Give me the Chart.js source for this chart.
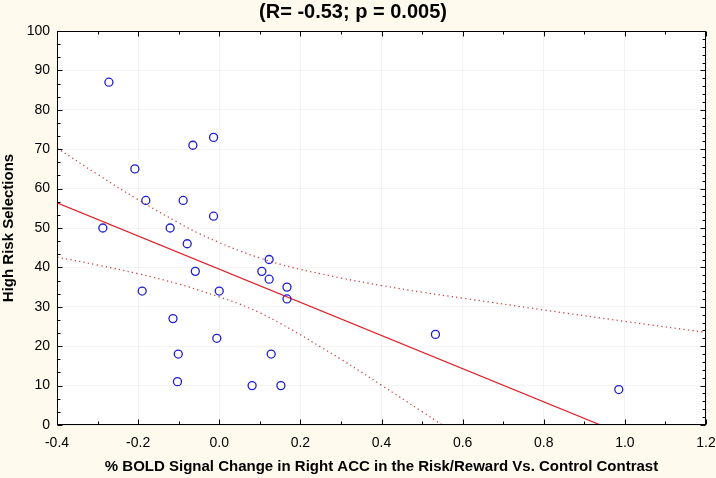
<!DOCTYPE html>
<html><head><meta charset="utf-8">
<script src="https://cdn.jsdelivr.net/npm/chart.js@4.4.0/dist/chart.umd.min.js"></script>
<style>html,body{margin:0;padding:0;background:#FEFAEE;overflow:hidden}#wrap{width:716px;height:478px}</style>
</head><body><div id="wrap"><canvas id="c" width="716" height="478"></canvas></div>
<script>
const titleText = '(R= -0.53; p = 0.005)';
const xAxisTitle = '% BOLD Signal Change in Right ACC in the Risk/Reward Vs. Control Contrast';
const yAxisTitle = 'High Risk Selections';

const xVals = [-0.272, -0.014, -0.065, -0.208, -0.181, -0.089, -0.014, -0.287, -0.121, -0.079, 0.123, -0.059, 0.105, 0.123, 0.167, -0.190, 0.000, 0.167, -0.114, -0.006, -0.101, 0.128, -0.103, 0.081, 0.152, 0.533, 0.985];
const yVals = [87, 73, 71, 65, 57, 57, 53, 50, 50, 46, 42, 39, 39, 37, 35, 34, 34, 32, 27, 22, 18, 18, 11, 10, 10, 23, 9];

const fitX = [-0.4, 0.94];
const fitY = [56.4, 0];

const upperX = [-0.4, -0.3, -0.2, -0.1, -0.05, 0.0, 0.05, 0.1, 0.15, 0.2, 0.25, 0.3, 0.4, 0.5, 0.6, 0.8, 1.0, 1.2];
const upperY = [70.3, 63.6, 57.2, 51.3, 48.6, 46.3, 44.2, 42.4, 40.8, 39.5, 38.4, 37.3, 35.4, 33.7, 32.2, 29.2, 26.3, 23.5];
const lowerX = [-0.4, -0.3, -0.2, -0.1, -0.05, 0.0, 0.05, 0.1, 0.15, 0.2, 0.25, 0.3, 0.4, 0.5, 0.6];
const lowerY = [42.6, 40.6, 38.4, 35.8, 34.2, 32.5, 30.7, 28.5, 25.8, 22.9, 19.8, 16.7, 10.1, 3.4, -3.5];

const xTicks = [-0.4, -0.2, 0.0, 0.2, 0.4, 0.6, 0.8, 1.0, 1.2];
const xTickLabels = ['-0.4', '-0.2', '0.0', '0.2', '0.4', '0.6', '0.8', '1.0', '1.2'];
const yTicks = [0, 10, 20, 30, 40, 50, 60, 70, 80, 90, 100];
const yTickLabels = ['0', '10', '20', '30', '40', '50', '60', '70', '80', '90', '100'];

const FONT = 'Liberation Sans, Arial, Helvetica, sans-serif';
const pts = (xs, ys) => xs.map((x, i) => ({x: x, y: ys[i]}));

const frame = {
  id: 'frame',
  beforeDraw(chart) {
    const {ctx, chartArea: a} = chart;
    ctx.save();
    ctx.fillStyle = '#FEFAEE';
    ctx.fillRect(0, 0, chart.width, chart.height);
    ctx.fillStyle = '#FFFFFF';
    ctx.fillRect(a.left, a.top, a.right - a.left, a.bottom - a.top);
    ctx.restore();
  },
  afterDraw(chart) {
    const {ctx, chartArea: a, scales} = chart;
    const xs = scales.x, ys = scales.y;
    ctx.save();
    ctx.strokeStyle = '#000';
    ctx.lineWidth = 1;
    const L = Math.round(a.left) + 0.5, R = Math.round(a.right) - 0.5;
    const T = Math.round(a.top) + 0.5, B = Math.round(a.bottom) - 0.5;
    ctx.strokeRect(L, T, R - L, B - T);
    ctx.beginPath();
    for (let k = 0; k <= 16; k++) {
      const v = -0.4 + k * 0.1;
      const px = Math.round(xs.getPixelForValue(v)) + 0.5;
      const len = (k % 2 === 0) ? 5 : 3;
      ctx.moveTo(px, B); ctx.lineTo(px, B - len);
      ctx.moveTo(px, T); ctx.lineTo(px, T + len);
    }
    for (let k = 0; k <= 30; k++) {
      const v = k * 10 / 3;
      const py = Math.round(ys.getPixelForValue(v)) + 0.5;
      const len = (k % 3 === 0) ? 5 : 3;
      ctx.moveTo(L, py); ctx.lineTo(L + len, py);
    }
    for (let k = 0; k <= 50; k++) {
      const v = k * 2;
      const py = Math.round(ys.getPixelForValue(v)) + 0.5;
      const len = (k % 5 === 0) ? 5 : 3;
      ctx.moveTo(R, py); ctx.lineTo(R - len, py);
    }
    ctx.stroke();
    ctx.restore();
  }
};

new Chart(document.getElementById('c'), {
  type: 'scatter',
  data: {
    datasets: [
      {
        data: pts(xVals, yVals),
        pointStyle: 'circle', pointRadius: 4, pointHoverRadius: 4,
        pointBorderWidth: 1.3, borderColor: '#1E1ED2', backgroundColor: 'rgba(0,0,0,0)',
        showLine: false
      },
      {
        data: pts(fitX, fitY), showLine: true, pointRadius: 0,
        borderColor: '#E3202A', borderWidth: 1.3, fill: false
      },
      {
        data: pts(upperX, upperY), showLine: true, pointRadius: 0,
        borderColor: '#C84A4A', borderWidth: 1.3, borderDash: [1.3, 3.2],
        tension: 0.4, fill: false
      },
      {
        data: pts(lowerX, lowerY), showLine: true, pointRadius: 0,
        borderColor: '#C84A4A', borderWidth: 1.3, borderDash: [1.3, 3.2],
        tension: 0.4, fill: false
      }
    ]
  },
  options: {
    responsive: false, animation: false, devicePixelRatio: 1,
    layout: {padding: {left: 0, right: 10, top: 0, bottom: 0}},
    plugins: {
      legend: {display: false},
      tooltip: {enabled: false},
      title: {
        display: true, text: titleText, color: '#000',
        font: {family: FONT, size: 20, weight: 'bold', lineHeight: 1},
        padding: {top: 2, bottom: 9}
      }
    },
    scales: {
      x: {
        type: 'linear', min: -0.4, max: 1.2,
        afterBuildTicks(s) { s.ticks = xTicks.map(v => ({value: v})); },
        ticks: {
          callback: (v, i) => xTickLabels[i],
          font: {family: FONT, size: 14}, color: '#000', padding: 10,
          maxRotation: 0, autoSkip: false
        },
        grid: {color: 'rgba(0,0,0,0.045)', drawTicks: false},
        border: {display: false},
        title: {
          display: true, text: xAxisTitle, color: '#000',
          font: {family: FONT, size: 15, weight: 'bold'},
          padding: {top: 0, bottom: 2}
        },
        afterFit(s) { s.height = 53; s.paddingLeft = 0; s.paddingRight = 0; }
      },
      y: {
        type: 'linear', min: 0, max: 100,
        afterBuildTicks(s) { s.ticks = yTicks.map(v => ({value: v})); },
        ticks: {
          callback: (v, i) => yTickLabels[i],
          font: {family: FONT, size: 14}, color: '#000', padding: 7,
          autoSkip: false
        },
        grid: {color: 'rgba(0,0,0,0.045)', drawTicks: false},
        border: {display: false},
        title: {
          display: true, text: yAxisTitle, color: '#000',
          font: {family: FONT, size: 15, weight: 'bold'},
          padding: {top: 0, bottom: 0}
        },
        afterFit(s) { s.width = 57; s.paddingTop = 0; s.paddingBottom = 0; }
      }
    }
  },
  plugins: [frame]
});
</script>
</body></html>
